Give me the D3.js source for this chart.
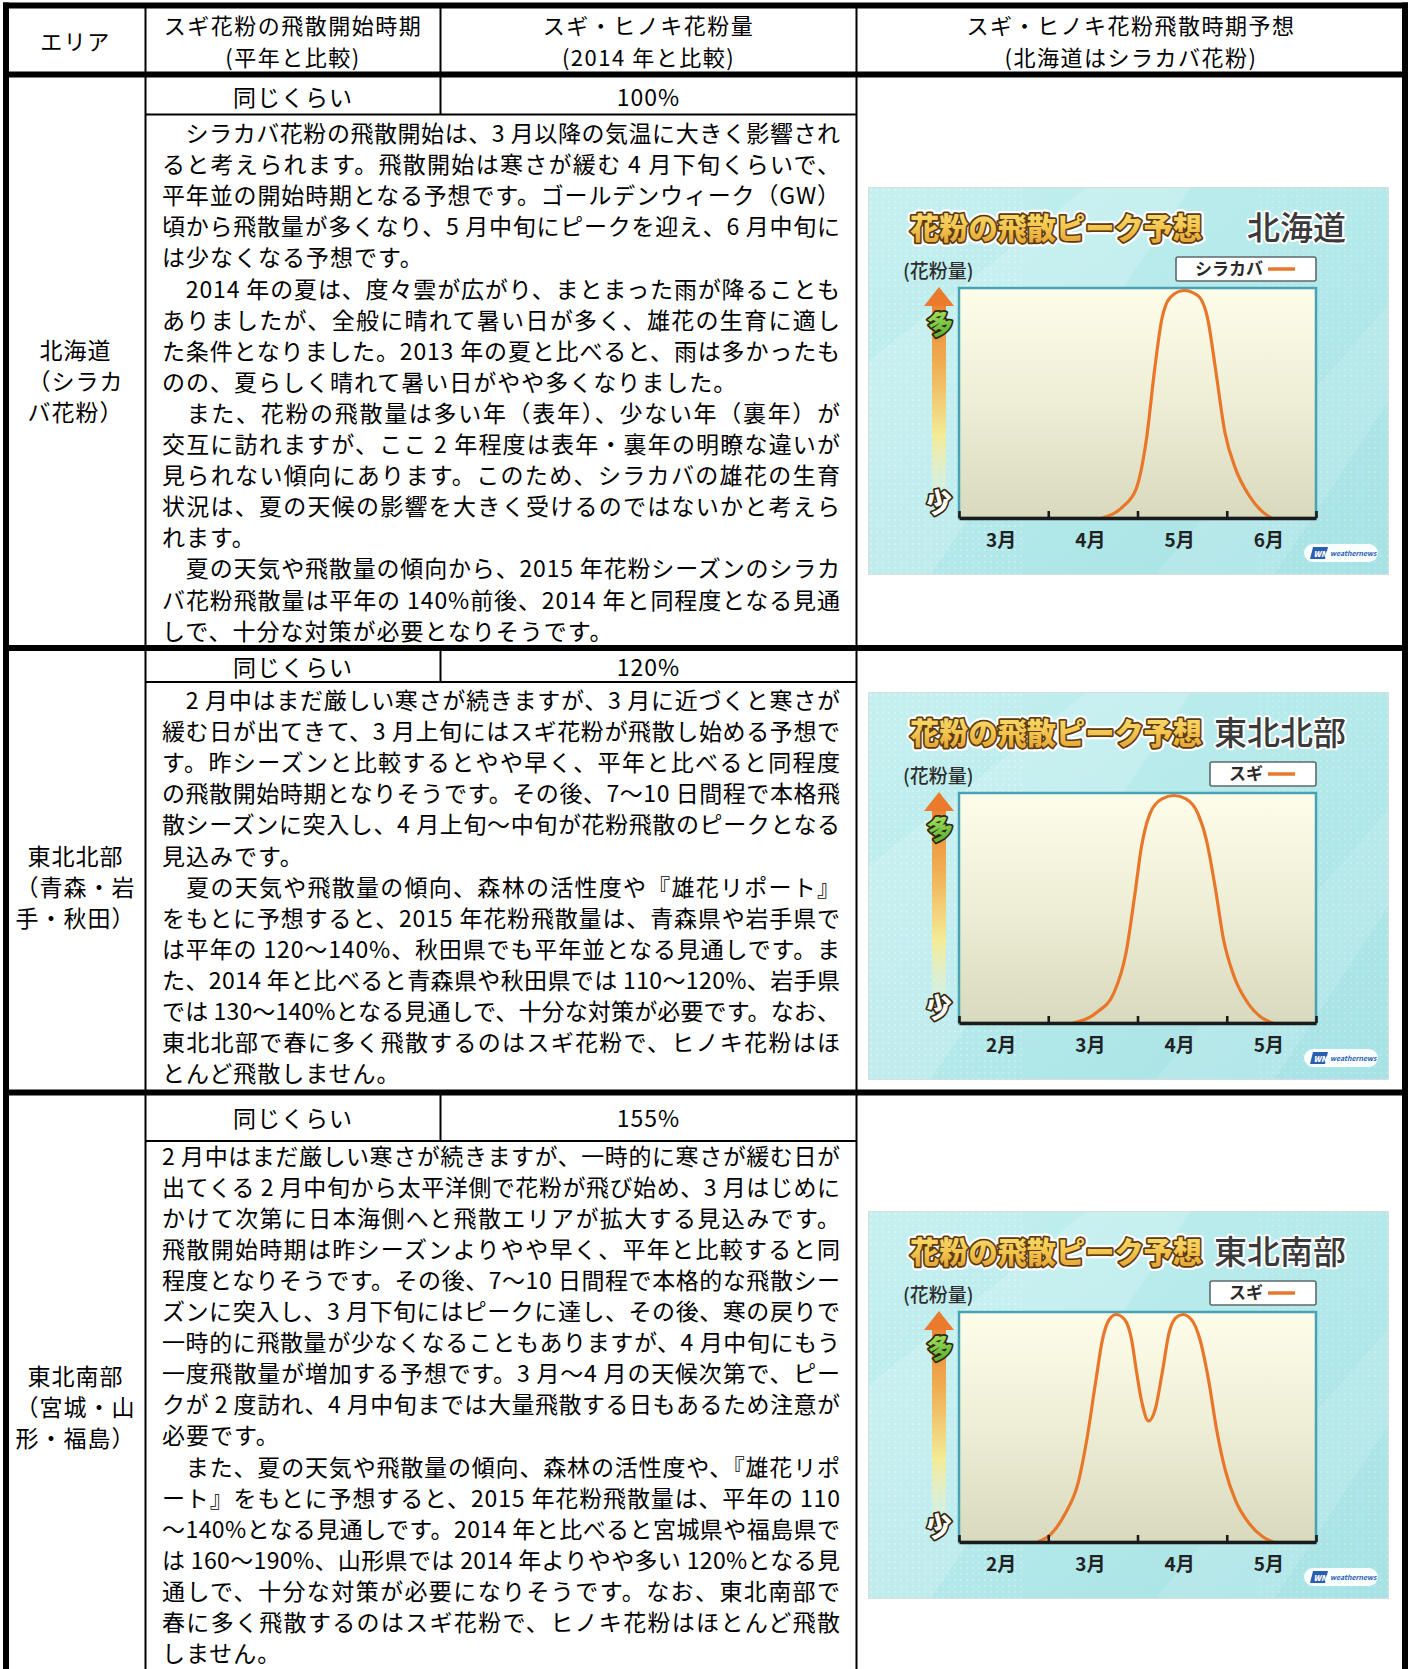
<!DOCTYPE html>
<html>
<head>
<meta charset="utf-8">
<script src="https://cdn.jsdelivr.net/npm/d3@7"></script>
<style>
html, body { margin: 0; padding: 0; background: #fff; }
svg { display: block; }
text { font-family: "Noto Sans CJK JP", "Noto Sans", sans-serif; }
</style>
</head>
<body>
<svg id="page" width="1410" height="1669"></svg>
<script>
// ---- table content ----
const headerLabels = [
  ["エリア"],
  ["スギ花粉の飛散開始時期", "(平年と比較)"],
  ["スギ・ヒノキ花粉量", "(2014 年と比較)"],
  ["スギ・ヒノキ花粉飛散時期予想", "(北海道はシラカバ花粉)"]
];
const areaLabels = [
  ["北海道", "（シラカ", "バ花粉）"],
  ["東北北部", "（青森・岩", "手・秋田）"],
  ["東北南部", "（宮城・山", "形・福島）"]
];
const startTiming = ["同じくらい", "同じくらい", "同じくらい"];
const amountVs2014 = ["100%", "120%", "155%"];

const bodyHokkaido = [
  "　シラカバ花粉の飛散開始は、3 月以降の気温に大きく影響され",
  "ると考えられます。飛散開始は寒さが緩む 4 月下旬くらいで、",
  "平年並の開始時期となる予想です。ゴールデンウィーク（GW）",
  "頃から飛散量が多くなり、5 月中旬にピークを迎え、6 月中旬に",
  "は少なくなる予想です。",
  "　2014 年の夏は、度々雲が広がり、まとまった雨が降ることも",
  "ありましたが、全般に晴れて暑い日が多く、雄花の生育に適し",
  "た条件となりました。2013 年の夏と比べると、雨は多かったも",
  "のの、夏らしく晴れて暑い日がやや多くなりました。",
  "　また、花粉の飛散量は多い年（表年）、少ない年（裏年）が",
  "交互に訪れますが、ここ 2 年程度は表年・裏年の明瞭な違いが",
  "見られない傾向にあります。このため、シラカバの雄花の生育",
  "状況は、夏の天候の影響を大きく受けるのではないかと考えら",
  "れます。",
  "　夏の天気や飛散量の傾向から、2015 年花粉シーズンのシラカ",
  "バ花粉飛散量は平年の 140%前後、2014 年と同程度となる見通",
  "しで、十分な対策が必要となりそうです。"
];
const bodyTohokuNorth = [
  "　2 月中はまだ厳しい寒さが続きますが、3 月に近づくと寒さが",
  "緩む日が出てきて、3 月上旬にはスギ花粉が飛散し始める予想で",
  "す。昨シーズンと比較するとやや早く、平年と比べると同程度",
  "の飛散開始時期となりそうです。その後、7～10 日間程で本格飛",
  "散シーズンに突入し、4 月上旬～中旬が花粉飛散のピークとなる",
  "見込みです。",
  "　夏の天気や飛散量の傾向、森林の活性度や『雄花リポート』",
  "をもとに予想すると、2015 年花粉飛散量は、青森県や岩手県で",
  "は平年の 120～140%、秋田県でも平年並となる見通しです。ま",
  "た、2014 年と比べると青森県や秋田県では 110～120%、岩手県",
  "では 130～140%となる見通しで、十分な対策が必要です。なお、",
  "東北北部で春に多く飛散するのはスギ花粉で、ヒノキ花粉はほ",
  "とんど飛散しません。"
];
const bodyTohokuSouth = [
  "2 月中はまだ厳しい寒さが続きますが、一時的に寒さが緩む日が",
  "出てくる 2 月中旬から太平洋側で花粉が飛び始め、3 月はじめに",
  "かけて次第に日本海側へと飛散エリアが拡大する見込みです。",
  "飛散開始時期は昨シーズンよりやや早く、平年と比較すると同",
  "程度となりそうです。その後、7～10 日間程で本格的な飛散シー",
  "ズンに突入し、3 月下旬にはピークに達し、その後、寒の戻りで",
  "一時的に飛散量が少なくなることもありますが、4 月中旬にもう",
  "一度飛散量が増加する予想です。3 月～4 月の天候次第で、ピー",
  "クが 2 度訪れ、4 月中旬までは大量飛散する日もあるため注意が",
  "必要です。",
  "　また、夏の天気や飛散量の傾向、森林の活性度や、『雄花リポ",
  "ート』をもとに予想すると、2015 年花粉飛散量は、平年の 110",
  "～140%となる見通しです。2014 年と比べると宮城県や福島県で",
  "は 160～190%、山形県では 2014 年よりやや多い 120%となる見",
  "通しで、十分な対策が必要になりそうです。なお、東北南部で",
  "春に多く飛散するのはスギ花粉で、ヒノキ花粉はほとんど飛散",
  "しません。"
];

// ---- chart content (x = months from the first label's start, y = relative amount) ----
const chartTitle = "花粉の飛散ピーク予想";
const yAxisName = "(花粉量)";
const chartRegions = ["北海道", "東北北部", "東北南部"];
const chartSpecies = ["シラカバ", "スギ", "スギ"];
const monthsHokkaido = ["3月", "4月", "5月", "6月"];
const monthsTohoku = ["2月", "3月", "4月", "5月"];

const hokkaidoX = [1.60, 1.83, 1.985, 2.10, 2.196, 2.27, 2.37, 2.52, 2.675, 2.79, 2.87, 2.98, 3.10, 3.25, 3.405, 3.50];
const hokkaidoY = [0, 0.048, 0.128, 0.346, 0.666, 0.869, 0.971, 1.0, 0.978, 0.869, 0.666, 0.375, 0.215, 0.099, 0.026, 0];

const northX = [1.277, 1.546, 1.737, 1.871, 1.967, 2.044, 2.14, 2.274, 2.408, 2.543, 2.677, 2.773, 2.869, 2.964, 3.08, 3.233, 3.386, 3.52];
const northY = [0, 0.047, 0.134, 0.308, 0.556, 0.774, 0.92, 0.985, 1.0, 0.985, 0.92, 0.803, 0.6, 0.367, 0.207, 0.09, 0.025, 0];

const southX = [0.88, 1.033, 1.187, 1.34, 1.435, 1.531, 1.608, 1.684, 1.761, 1.856, 1.933, 1.99, 2.048, 2.124, 2.201, 2.278, 2.354, 2.431, 2.507, 2.603, 2.699, 2.794, 2.89, 2.986, 3.10, 3.254, 3.407, 3.522];
const southY = [0, 0.036, 0.123, 0.268, 0.457, 0.703, 0.891, 0.978, 1.0, 0.978, 0.891, 0.746, 0.616, 0.532, 0.587, 0.746, 0.92, 0.986, 1.0, 0.978, 0.891, 0.717, 0.486, 0.312, 0.181, 0.08, 0.022, 0];

// ---- layout ----
const svg = d3.select("#page");
const FONT = 23;
const colX = [6, 145.5, 440.5, 856.5, 1405];
const rowTop = [74.5, 648, 1092.5];
const subRowY = [114.5, 682, 1141];
const subRowMid = [96, 666, 1117];
const bodyFirst = [132, 699, 1154.5];
const areaFirst = [349, 854.5, 1375];
const LINE = 31.1;
const bodyX = 162, bodyW = 679;
const bodies = [bodyHokkaido, bodyTohokuNorth, bodyTohokuSouth];

const defs = svg.append("defs");

// ---- table text ----
const tt = svg.append("g").attr("fill", "#000").style("font-size", FONT + "px").style("letter-spacing", "1px");
const centers = [75.5, 293, 648.5, 1131];
headerLabels.forEach((lines, i) => {
  const ys = lines.length === 1 ? [40] : [24, 56];
  lines.forEach((s, j) => {
    tt.append("text").attr("x", centers[i]).attr("y", ys[j])
      .style("font-size", "22px").style("letter-spacing", "1.5px")
      .attr("text-anchor", "middle").attr("dominant-baseline", "central").text(s);
  });
});

areaLabels.forEach((lines, r) => {
  lines.forEach((s, j) => {
    tt.append("text").attr("x", centers[0]).attr("y", areaFirst[r] + j * LINE)
      .attr("text-anchor", "middle").attr("dominant-baseline", "central").text(s);
  });
  tt.append("text").attr("x", centers[1]).attr("y", subRowMid[r])
    .attr("text-anchor", "middle").attr("dominant-baseline", "central").text(startTiming[r]);
  tt.append("text").attr("x", centers[2]).attr("y", subRowMid[r])
    .attr("text-anchor", "middle").attr("dominant-baseline", "central").text(amountVs2014[r]);

  const body = bodies[r];
  body.forEach((s, j) => {
    const last = j === body.length - 1 || body[j + 1].startsWith("　");
    const t = tt.append("text").attr("x", bodyX).attr("y", bodyFirst[r] + j * LINE)
      .attr("dominant-baseline", "central").text(s);
    if (!last) t.attr("textLength", bodyW).attr("lengthAdjust", "spacing");
  });
});

// ---- table rules ----
const rules = svg.append("g").attr("stroke", "#000").attr("fill", "none");
[5.5, ...rowTop].forEach(y => {
  rules.append("line").attr("x1", 3).attr("x2", 1408).attr("y1", y).attr("y2", y)
    .attr("stroke-width", 6);
});
[colX[0], colX[4]].forEach(x => {
  rules.append("line").attr("x1", x).attr("x2", x).attr("y1", 2.5).attr("y2", 1669)
    .attr("stroke-width", 6);
});
[colX[1], colX[3]].forEach(x => {
  rules.append("line").attr("x1", x).attr("x2", x).attr("y1", 5).attr("y2", 1669)
    .attr("stroke-width", 2);
});
rules.append("line").attr("x1", colX[2]).attr("x2", colX[2]).attr("y1", 5).attr("y2", 75)
  .attr("stroke-width", 2);
rowTop.forEach((y, r) => {
  rules.append("line").attr("x1", colX[2]).attr("x2", colX[2]).attr("y1", y).attr("y2", subRowY[r])
    .attr("stroke-width", 2);
  rules.append("line").attr("x1", colX[1]).attr("x2", colX[3]).attr("y1", subRowY[r]).attr("y2", subRowY[r])
    .attr("stroke-width", 1.8);
});

// ---- shared gradients for the forecast panels ----
function linGrad(id, stops, x2, y2) {
  const g = defs.append("linearGradient").attr("id", id)
    .attr("x1", 0).attr("y1", 0).attr("x2", x2).attr("y2", y2);
  stops.forEach(s => g.append("stop").attr("offset", s[0]).attr("stop-color", s[1])
    .attr("stop-opacity", s[2] === undefined ? 1 : s[2]));
}
linGrad("bgGrad", [[0, "#c6f0f0"], [0.5, "#b4e9ea"], [1, "#a6e2e5"]], 1, 1);
linGrad("plotGrad", [[0, "#fefdea"], [0.5, "#eeeed6"], [1, "#d8d9bd"]], 0, 1);
linGrad("arrowGrad", [[0, "#ec8430"], [0.3, "#f0b055"], [0.62, "#f3eb96"], [1, "#e4f6ec", 0.2]], 0, 1);
linGrad("titleGrad", [[0, "#fbe77a"], [0.55, "#f3c44e"], [1, "#e09a2c"]], 0, 1);
linGrad("manyGrad", [[0, "#b6ec6a"], [1, "#4faa2c"]], 0, 1);
const dots = defs.append("pattern").attr("id", "dots").attr("patternUnits", "userSpaceOnUse")
  .attr("width", 6).attr("height", 6);
dots.append("circle").attr("cx", 3).attr("cy", 3).attr("r", 1.1).attr("fill", "#ffffff").attr("opacity", 0.45);

// ---- forecast panel ----
const PW = 521, PH = 388;
const plotL = 91, plotR = 448, plotT = 101, axisY = 331;

function drawPanel(ox, oy, idx, months, xs, ys) {
  const g = svg.append("g").attr("transform", `translate(${ox},${oy})`);
  const clipId = "clip" + idx;
  defs.append("clipPath").attr("id", clipId).append("rect").attr("width", PW).attr("height", PH);
  const bg = g.append("g").attr("clip-path", `url(#${clipId})`);
  bg.append("rect").attr("width", PW).attr("height", PH).attr("fill", "url(#bgGrad)");
  bg.append("path").attr("d", `M0,${PH*0.45} L${PW*0.42},0 L${PW*0.62},0 L${PW*0.12},${PH} L0,${PH} Z`)
    .attr("fill", "#ffffff").attr("opacity", 0.16);
  bg.append("path").attr("d", `M${PW*0.55},${PH} L${PW},${PH*0.3} L${PW},${PH*0.55} L${PW*0.78},${PH} Z`)
    .attr("fill", "#ffffff").attr("opacity", 0.12);
  bg.append("rect").attr("width", PW * 0.3).attr("height", PH).attr("fill", "url(#dots)").attr("opacity", 0.7);
  bg.append("rect").attr("x", PW * 0.75).attr("width", PW * 0.25).attr("height", PH).attr("fill", "url(#dots)").attr("opacity", 0.5);
  g.append("rect").attr("x", 0.5).attr("y", 0.5).attr("width", PW - 1).attr("height", PH - 1)
    .attr("fill", "none").attr("stroke", "#d4dede").attr("stroke-width", 1);

  // title
  const title = g.append("g").style("font-size", "30px").style("font-weight", 900);
  title.append("text").attr("x", 42).attr("y", 52).attr("textLength", 292).attr("lengthAdjust", "spacingAndGlyphs")
    .attr("fill", "none").attr("stroke", "#fff").attr("stroke-width", 8).attr("stroke-linejoin", "round").text(chartTitle);
  title.append("text").attr("x", 42).attr("y", 52).attr("textLength", 292).attr("lengthAdjust", "spacingAndGlyphs")
    .attr("fill", "url(#titleGrad)").attr("stroke", "#5a3b14").attr("stroke-width", 3.5)
    .attr("stroke-linejoin", "round").attr("paint-order", "stroke").text(chartTitle);
  g.append("text").attr("x", 478).attr("y", 53).attr("text-anchor", "end")
    .style("font-size", "33px").style("font-weight", 500)
    .attr("fill", "#3a3a3a").attr("stroke", "#ffffff").attr("stroke-width", 4)
    .attr("stroke-linejoin", "round").attr("paint-order", "stroke").text(chartRegions[idx]);

  g.append("text").attr("x", 35).attr("y", 91).style("font-size", "19px").style("font-weight", 500)
    .attr("fill", "#2e2e2e").text(yAxisName);

  // legend
  const leg = g.append("g");
  const legBox = leg.append("rect");
  const legText = leg.append("text").attr("x", plotR - 53).attr("y", 88).attr("text-anchor", "end")
    .style("font-size", "17px").style("font-weight", 700).attr("fill", "#2a2a2a").text(chartSpecies[idx]);
  const tw = legText.node().getComputedTextLength();
  legBox.attr("x", plotR - 53 - tw - 19).attr("y", 70)
    .attr("width", tw + 19 + 53).attr("height", 24).attr("rx", 2)
    .attr("fill", "#ffffff").attr("stroke", "#5d6a6c").attr("stroke-width", 1.6);
  leg.append("line").attr("x1", plotR - 48).attr("x2", plotR - 21).attr("y1", 82).attr("y2", 82)
    .attr("stroke", "#e8772a").attr("stroke-width", 3.5);

  // plot area
  g.append("rect").attr("x", plotL).attr("y", plotT).attr("width", plotR - plotL).attr("height", axisY - plotT)
    .attr("fill", "url(#plotGrad)").attr("stroke", "#46a2b4").attr("stroke-width", 2.5);

  // y-direction arrow
  g.append("rect").attr("x", 64).attr("y", 116).attr("width", 14).attr("height", 213).attr("fill", "url(#arrowGrad)");
  g.append("path").attr("d", "M56,119 L86,119 L71,100 Z").attr("fill", "#ec7a2c");
  g.append("text").attr("x", 72).attr("y", 135).attr("text-anchor", "middle").attr("dominant-baseline", "central")
    .attr("transform", "rotate(-14,72,135)")
    .style("font-size", "26px").style("font-weight", 900)
    .attr("fill", "url(#manyGrad)").attr("stroke", "#33260e").attr("stroke-width", 3.4)
    .attr("stroke-linejoin", "round").attr("paint-order", "stroke").text("多");
  g.append("text").attr("x", 71).attr("y", 313).attr("text-anchor", "middle").attr("dominant-baseline", "central")
    .attr("transform", "rotate(-14,71,313)")
    .style("font-size", "26px").style("font-weight", 900)
    .attr("fill", "#ffffff").attr("stroke", "#33260e").attr("stroke-width", 3.4)
    .attr("stroke-linejoin", "round").attr("paint-order", "stroke").text("少");

  // scales
  const x = d3.scaleLinear().domain([0, 4]).range([plotL, plotR]);
  const y = d3.scaleLinear().domain([0, 1]).range([axisY, plotT + 2.5]);

  // pollen curve
  const pts = xs.map((v, i) => [v, ys[i]]);
  const line = d3.line().x(d => x(d[0])).y(d => y(d[1])).curve(d3.curveMonotoneX);
  g.append("path").attr("d", line(pts)).attr("fill", "none")
    .attr("stroke", "#e8772a").attr("stroke-width", 3.2).attr("stroke-linejoin", "round");

  // month axis
  const ax = g.append("g").attr("transform", `translate(0,${axisY})`)
    .call(d3.axisBottom(x).tickValues([0, 1, 2, 3, 4]).tickSize(-7).tickSizeOuter(0).tickFormat(""));
  ax.select(".domain").attr("stroke", "#1b1b1b").attr("stroke-width", 3.5);
  ax.selectAll(".tick line").attr("stroke", "#1b1b1b").attr("stroke-width", 2.6);

  const lab = g.append("g").attr("transform", `translate(-3,${axisY})`)
    .call(d3.axisBottom(x).tickValues([0.5, 1.5, 2.5, 3.5]).tickSize(0).tickPadding(0)
      .tickFormat((d, i) => months[i]));
  lab.select(".domain").remove();
  lab.selectAll(".tick text").attr("y", 29).attr("dy", 0).attr("fill", "#222")
    .style("font-size", "19px").style("font-weight", 700)
    .style("font-family", '"Noto Sans CJK JP", sans-serif');

  // brand badge
  const b = g.append("g").attr("transform", "translate(436,357)");
  b.append("rect").attr("width", 74).attr("height", 18).attr("rx", 9).attr("fill", "#ffffff").attr("opacity", 0.92);
  b.append("path").attr("d", "M9,3 L24,3 L21,15 L6,15 Z").attr("fill", "#2c5fb0");
  b.append("text").attr("x", 9.5).attr("y", 12.5).style("font-size", "8px").style("font-weight", 900)
    .style("font-style", "italic").attr("fill", "#fff").text("WN");
  b.append("text").attr("x", 26).attr("y", 12).style("font-size", "7px").style("font-weight", 700)
    .style("font-style", "italic").attr("fill", "#2c5fb0").text("weathernews");
}

drawPanel(868, 187, 0, monthsHokkaido, hokkaidoX, hokkaidoY);
drawPanel(868, 692, 1, monthsTohoku, northX, northY);
drawPanel(868, 1211, 2, monthsTohoku, southX, southY);
</script>
</body>
</html>
